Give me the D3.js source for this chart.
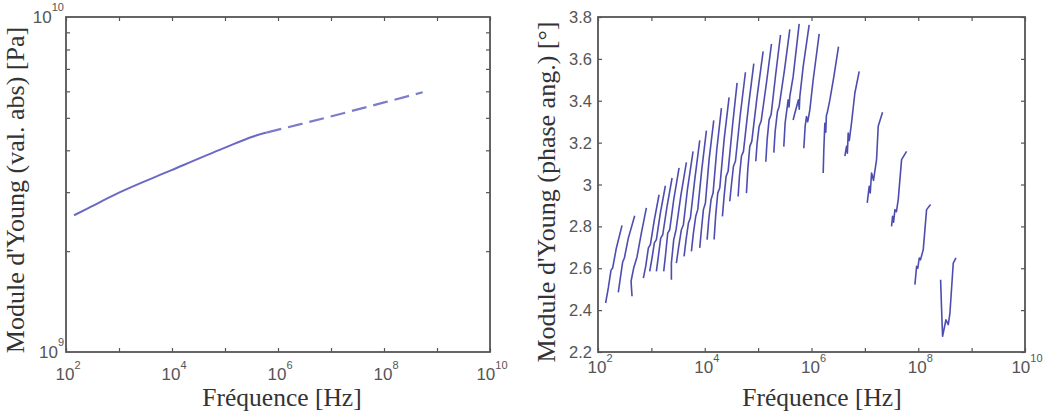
<!DOCTYPE html>
<html><head><meta charset="utf-8">
<script src="https://cdn.jsdelivr.net/npm/d3@7"></script>
<style>body{margin:0;background:#fff}</style>
</head><body><svg id="c" width="1044" height="414"></svg>
<script>
// ---- data ----
const xTickValues = [1e2,1e3,1e4,1e5,1e6,1e7,1e8,1e9,1e10];
const xLabelExps = [2,4,6,8,10];
const magMinorTicks = [2e9,3e9,4e9,5e9,6e9,7e9,8e9,9e9];
const magLabelExps = [9,10];
const magFreq  = [142, 264, 1000, 9800, 95000, 342000, 611000, 9.5e6, 9.7e7, 5.37e8];
const magValue = [2.56e9, 2.69e9, 2.99e9, 3.49e9, 4.06e9, 4.40e9, 4.52e9, 5.04e9, 5.55e9, 5.96e9];
const magDashFrom = 6;
const phaseTicks = [2.2,2.4,2.6,2.8,3,3.2,3.4,3.6,3.8];
const phaseSweeps = [
 [[139,2.434],[156,2.506],[175,2.590],[188,2.601],[221,2.697],[282,2.805]],
 [[240,2.485],[262,2.553],[290,2.630],[312,2.649],[370,2.744],[487,2.851]],
 [[434,2.466],[416,2.538],[466,2.601],[538,2.654],[649,2.768],[806,2.888]],
 [[708,2.553],[783,2.609],[879,2.697],[958,2.713],[1138,2.832],[1393,2.951]],
 [[931,2.585],[1029,2.649],[1138,2.721],[1241,2.737],[1475,2.864],[1830,2.994]],
 [[1241,2.585],[1352,2.657],[1496,2.744],[1632,2.760],[1967,2.896],[2441,3.031]],
 [[1702,2.585],[1830,2.657],[2024,2.768],[2207,2.784],[2624,2.928],[3302,3.079]],
 [[2371,2.545],[2371,2.625],[2624,2.737],[2901,2.784],[3548,2.943],[4530,3.106]],
 [[2943,2.625],[3256,2.705],[3652,2.784],[3981,2.808],[4732,2.975],[6040,3.158]],
 [[4098,2.657],[4467,2.737],[4943,2.816],[5383,2.840],[6494,3.023],[8055,3.211]],
 [[5623,2.681],[6131,2.768],[6776,2.848],[7391,2.880],[8790,3.071],[10740,3.257]],
 [[8055,2.697],[8660,2.784],[9441,2.880],[10290,2.912],[12050,3.119],[14750,3.306]],
 [[11070,2.737],[11890,2.832],[13140,2.928],[14320,2.959],[16790,3.166],[20540,3.365]],
 [[14960,2.737],[16070,2.856],[17530,2.959],[19100,2.983],[23040,3.214],[28580,3.416]],
 [[21430,2.848],[23040,2.943],[25120,3.039],[27380,3.063],[33020,3.278],[40370,3.485]],
 [[29430,2.920],[31620,2.999],[34490,3.087],[37580,3.111],[45970,3.326],[57870,3.536]],
 [[42170,2.943],[44670,3.039],[48700,3.135],[53090,3.158],[65900,3.373],[82990,3.577]],
 [[60400,2.959],[63990,3.071],[69800,3.182],[76030,3.206],[95750,3.421],[124100,3.636]],
 [[90360,3.111],[95750,3.198],[104400,3.278],[113800,3.302],[143300,3.485],[177800,3.671]],
 [[139300,3.109],[147500,3.214],[160700,3.310],[175300,3.334],[211300,3.517],[262400,3.714]],
 [[196700,3.152],[208400,3.254],[230400,3.349],[247600,3.373],[311900,3.548],[392400,3.741]],
 [[302700,3.181],[320700,3.294],[365200,3.404],[380000,3.37],[392400,3.421],[452900,3.515],[587400,3.767]],
 [[452900,3.308],[487000,3.340],[570200,3.405],[590000,3.36],[604000,3.419],[698000,3.563],[903600,3.762]],
 [[718000,3.173],[760300,3.278],[805400,3.324],[850000,3.30],[930800,3.356],[1074000,3.499],[1393000,3.719]],
 [[1656000,3.055],[1702000,3.166],[1778000,3.292],[1850000,3.25],[1900000,3.33],[1967000,3.341],[2208000,3.404],[2624000,3.515],[3207000,3.658]],
 [[4217000,3.135],[4530000,3.182],[4700000,3.15],[4870000,3.246],[5100000,3.21],[5623000,3.294],[6494000,3.437],[7834000,3.540]],
 [[11070000,2.912],[12050000,2.991],[12600000,2.96],[13340000,3.055],[14500000,3.02],[16560000,3.119],[17780000,3.278],[21430000,3.345]],
 [[31620000,2.800],[33020000,2.848],[34500000,2.82],[36520000,2.880],[39000000,2.87],[42170000,2.928],[48700000,3.119],[60400000,3.158]],
 [[86600000,2.522],[93100000,2.609],[98000000,2.60],[104400000,2.649],[110000000,2.64],[124100000,2.689],[143300000,2.880],[170200000,2.904]],
 [[262400000,2.545],[273800000,2.402],[285800000,2.275],[330200000,2.354],[365200000,2.331],[392400000,2.386],[453000000,2.625],[508000000,2.649]]
];

// ---- drawing ----
const svg = d3.select("#c");
const TOP = 17, BOT = 352;
const frameColor = "#555", tickColor = "#555";
const sans = "'Liberation Sans', Arial, sans-serif";
const serif = "'Liberation Serif', 'Times New Roman', serif";

function frame(g, x0, x1) {
  g.append("rect").attr("x", x0).attr("y", TOP).attr("width", x1 - x0).attr("height", BOT - TOP)
    .attr("fill", "none").attr("stroke", frameColor).attr("stroke-width", 1.8);
}
function styleAxis(sel) {
  sel.select(".domain").remove();
  sel.selectAll("line").attr("stroke", frameColor).attr("stroke-width", 1.2);
  sel.selectAll("text").remove();
}
function powLabel(g, x, y, exp, anchor, fs, sfs, supDy) {
  const t = g.append("text").attr("x", x).attr("y", y).attr("text-anchor", anchor)
    .attr("font-family", sans).attr("font-size", fs).attr("fill", tickColor);
  t.append("tspan").attr("fill", tickColor).text("10");
  t.append("tspan").attr("dy", supDy).attr("font-size", sfs).attr("fill", tickColor).text(exp);
}

// ---------- left chart ----------
const L = svg.append("g");
const xL = d3.scaleLog().domain([1e2, 1e10]).range([66, 490]);
const yL = d3.scaleLog().domain([1e9, 1e10]).range([BOT, TOP]);

L.append("g").attr("transform", `translate(0,${BOT})`)
  .call(d3.axisBottom(xL).tickValues(xTickValues).tickSizeInner(-4).tickSizeOuter(0)).call(styleAxis);
L.append("g").attr("transform", `translate(0,${TOP})`)
  .call(d3.axisTop(xL).tickValues(xTickValues).tickSizeInner(-4).tickSizeOuter(0)).call(styleAxis);
L.append("g").attr("transform", `translate(66,0)`)
  .call(d3.axisLeft(yL).tickValues(magMinorTicks).tickSizeInner(-4).tickSizeOuter(0)).call(styleAxis);
L.append("g").attr("transform", `translate(490,0)`)
  .call(d3.axisRight(yL).tickValues(magMinorTicks).tickSizeInner(-4).tickSizeOuter(0)).call(styleAxis);
frame(L, 66, 490);

xLabelExps.forEach(e => powLabel(L, xL(Math.pow(10, e)) + 2, 380, e, "middle", 17, 11, -11));
magLabelExps.forEach(e => powLabel(L, 64, yL(Math.pow(10, e)) + 6, e, "end", 17, 11, -12));

const magPts = magFreq.map((f, i) => [f, magValue[i]]);
const lineL = d3.line().x(d => xL(d[0])).y(d => yL(d[1])).curve(d3.curveMonotoneX);
L.append("path").attr("d", lineL(magPts.slice(0, magDashFrom + 1)))
  .attr("fill", "none").attr("stroke", "#6a6ac4").attr("stroke-width", 2);
L.append("path").attr("d", lineL(magPts.slice(magDashFrom)))
  .attr("fill", "none").attr("stroke", "#7c7cca").attr("stroke-width", 2.2)
  .attr("stroke-dasharray", "15,7");

L.append("text").attr("x", 282).attr("y", 406).attr("text-anchor", "middle")
  .attr("font-family", serif).attr("font-size", 25.5).attr("fill", "#333").text("Fréquence [Hz]");
L.append("text").attr("transform", "translate(24,190) rotate(-90)").attr("text-anchor", "middle")
  .attr("font-family", serif).attr("font-size", 26).attr("fill", "#333").text("Module d'Young (val. abs) [Pa]");

// ---------- right chart ----------
const R = svg.append("g");
const xR = d3.scaleLog().domain([1e2, 1e10]).range([598, 1025]);
const yR = d3.scaleLinear().domain([2.2, 3.8]).range([BOT, TOP]);

R.append("g").attr("transform", `translate(0,${BOT})`)
  .call(d3.axisBottom(xR).tickValues(xTickValues).tickSizeInner(-4).tickSizeOuter(0)).call(styleAxis);
R.append("g").attr("transform", `translate(0,${TOP})`)
  .call(d3.axisTop(xR).tickValues(xTickValues).tickSizeInner(-4).tickSizeOuter(0)).call(styleAxis);
R.append("g").attr("transform", `translate(598,0)`)
  .call(d3.axisLeft(yR).tickValues(phaseTicks).tickSizeInner(-4).tickSizeOuter(0)).call(styleAxis);
R.append("g").attr("transform", `translate(1025,0)`)
  .call(d3.axisRight(yR).tickValues(phaseTicks).tickSizeInner(-4).tickSizeOuter(0)).call(styleAxis);
frame(R, 598, 1025);

xLabelExps.forEach(e => powLabel(R, xR(Math.pow(10, e)) + 2, 373, e, "middle", 17, 11, -11));
phaseTicks.forEach(v => R.append("text").attr("x", 592).attr("y", yR(v) + 6).attr("text-anchor", "end")
  .attr("font-family", sans).attr("font-size", 16.5).attr("fill", tickColor).text(d3.format("")(v)));

const lineR = d3.line().x(d => xR(d[0])).y(d => yR(d[1]));
R.append("g").selectAll("path").data(phaseSweeps).join("path")
  .attr("d", lineR).attr("fill", "none").attr("stroke", "#3a3aa6")
  .attr("stroke-width", 1.6).attr("stroke-opacity", 0.9).attr("stroke-linejoin", "round");

R.append("text").attr("x", 822).attr("y", 406).attr("text-anchor", "middle")
  .attr("font-family", serif).attr("font-size", 25.5).attr("fill", "#333").text("Fréquence [Hz]");
R.append("text").attr("transform", "translate(555,192) rotate(-90)").attr("text-anchor", "middle")
  .attr("font-family", serif).attr("font-size", 26).attr("fill", "#333").text("Module d'Young (phase ang.) [°]");
</script></body></html>
